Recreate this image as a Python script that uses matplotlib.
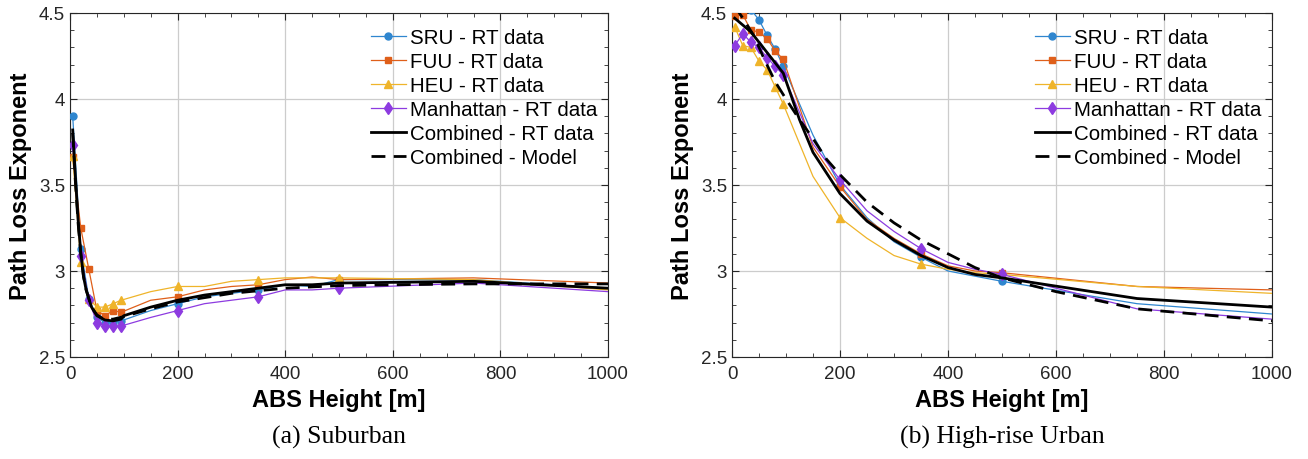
import matplotlib
matplotlib.use("Agg")
import matplotlib.pyplot as plt
from matplotlib.ticker import MultipleLocator

# ---- data ----------------------------------------------------------------
# RT data heights shared by the four per-city series
H_RT = [5, 20, 35, 50, 65, 80, 95, 150, 200, 250, 300, 350, 400, 450, 500, 750, 1000]
MARKED = [5, 20, 35, 50, 65, 80, 95, 200, 350, 500]

# (a) Suburban
SRU_SUB = [3.90, 3.13, 2.84, 2.73, 2.70, 2.70, 2.71, 2.77, 2.81, 2.85, 2.87, 2.89, 2.92, 2.91, 2.95, 2.95, 2.90]
FUU_SUB = [3.66, 3.25, 3.01, 2.77, 2.74, 2.77, 2.76, 2.83, 2.85, 2.89, 2.91, 2.92, 2.95, 2.965, 2.95, 2.96, 2.93]
HEU_SUB = [3.67, 3.05, 2.84, 2.79, 2.79, 2.81, 2.83, 2.88, 2.91, 2.91, 2.94, 2.95, 2.96, 2.96, 2.96, 2.95, 2.89]
MAN_SUB = [3.73, 3.09, 2.83, 2.70, 2.68, 2.68, 2.68, 2.73, 2.77, 2.81, 2.83, 2.85, 2.89, 2.89, 2.90, 2.93, 2.88]

H_CMB_SUB = [5, 10, 15, 20, 25, 30, 35, 40, 50, 65, 80, 95, 100, 150, 200, 250, 300, 350, 400, 450, 500, 750, 1000]
CMB_SUB = [3.82, 3.55, 3.30, 3.11, 2.97, 2.89, 2.84, 2.79, 2.74, 2.715, 2.71, 2.72, 2.74, 2.79, 2.83, 2.86, 2.88, 2.90, 2.92, 2.92, 2.93, 2.94, 2.90]

H_MOD_SUB = [5, 10, 15, 20, 25, 30, 40, 50, 60, 70, 80, 100, 150, 200, 300, 400, 500, 600, 750, 1000]
MOD_SUB = [3.80, 3.52, 3.28, 3.10, 2.97, 2.89, 2.79, 2.745, 2.725, 2.72, 2.72, 2.735, 2.78, 2.82, 2.87, 2.90, 2.915, 2.92, 2.925, 2.925]

# (b) High-rise Urban
SRU_HRU = [4.55, 4.56, 4.52, 4.46, 4.37, 4.29, 4.19, 3.79, 3.50, 3.31, 3.17, 3.08, 3.00, 2.97, 2.94, 2.81, 2.75]
FUU_HRU = [4.48, 4.49, 4.40, 4.39, 4.35, 4.28, 4.23, 3.72, 3.49, 3.30, 3.19, 3.10, 3.03, 3.00, 2.99, 2.91, 2.89]
HEU_HRU = [4.42, 4.31, 4.30, 4.22, 4.17, 4.07, 3.97, 3.55, 3.31, 3.19, 3.09, 3.04, 3.01, 2.99, 2.98, 2.91, 2.87]
MAN_HRU = [4.31, 4.38, 4.33, 4.30, 4.24, 4.19, 4.14, 3.74, 3.53, 3.35, 3.23, 3.13, 3.05, 3.01, 2.98, 2.78, 2.72]

H_CMB_HRU = [5, 20, 35, 50, 65, 80, 95, 125, 150, 200, 250, 300, 350, 400, 450, 500, 750, 1000]
CMB_HRU = [4.47, 4.43, 4.39, 4.33, 4.27, 4.21, 4.15, 3.88, 3.69, 3.45, 3.29, 3.18, 3.09, 3.02, 2.98, 2.96, 2.84, 2.79]

H_MOD_HRU = [5, 20, 40, 60, 80, 100, 125, 150, 175, 200, 250, 300, 350, 400, 450, 500, 600, 750, 1000]
MOD_HRU = [4.54, 4.47, 4.37, 4.23, 4.10, 4.00, 3.88, 3.77, 3.65, 3.56, 3.40, 3.28, 3.18, 3.10, 3.02, 2.96, 2.88, 2.78, 2.71]

LABELS = ["SRU - RT data", "FUU - RT data", "HEU - RT data", "Manhattan - RT data",
          "Combined - RT data", "Combined - Model"]
CAPTIONS = ["(a) Suburban", "(b) High-rise Urban"]

# ---- style ----------------------------------------------------------------
BLUE = "#2f86cf"
ORANGE = "#df5f1a"
YELLOW = "#efb42a"
PURPLE = "#8d3be0"
AXCOL = "#262626"

plt.rcParams.update({
    "font.family": ["Liberation Sans", "DejaVu Sans"],
    "axes.edgecolor": AXCOL,
    "axes.linewidth": 0.8,
    "xtick.color": AXCOL,
    "ytick.color": AXCOL,
})

CITY_STYLE = [
    (BLUE, "o", 5.0),
    (ORANGE, "s", 4.5),
    (YELLOW, "^", 6.0),
    (PURPLE, "d", 6.0),
]

mark_idx = [H_RT.index(h) for h in MARKED]


def draw(ax, cities, h_cmb, cmb, h_mod, mod):
    for vals, (col, mk, ms), lab in zip(cities, CITY_STYLE, LABELS):
        ax.plot(H_RT, vals, color=col, lw=0.9, marker=mk, ms=ms,
                markevery=mark_idx, label=lab, zorder=3)
    ax.plot(h_cmb, cmb, color="black", lw=2.0, label=LABELS[4], zorder=4)
    ax.plot(h_mod, mod, color="black", lw=2.0, dashes=(5, 3),
            label=LABELS[5], zorder=4)

    ax.set_xlim(0, 1000)
    ax.set_ylim(2.5, 4.5)
    ax.xaxis.set_major_locator(MultipleLocator(200))
    ax.xaxis.set_minor_locator(MultipleLocator(50))
    ax.yaxis.set_major_locator(MultipleLocator(0.5))
    ax.yaxis.set_minor_locator(MultipleLocator(0.1))
    ax.set_yticks([2.5, 3, 3.5, 4, 4.5], ["2.5", "3", "3.5", "4", "4.5"])
    ax.tick_params(which="both", direction="in", top=True, right=True,
                   labelsize=13.5)
    ax.tick_params(axis="x", pad=6)
    ax.tick_params(which="major", length=5)
    ax.tick_params(which="minor", length=3)
    ax.grid(which="major", color="#cccccc", lw=0.9)
    ax.set_axisbelow(True)
    ax.set_xlabel("ABS Height [m]", fontsize=17, fontweight="bold",
                  labelpad=4)
    ax.set_ylabel("Path Loss Exponent", fontsize=17, fontweight="bold",
                  labelpad=5)
    # legend box ends ~11 px before the right spine
    ax.legend(loc="upper right", bbox_to_anchor=(1 - 11 / 540, 0.957),
              frameon=False, fontsize=14.8, handlelength=1.7,
              handletextpad=0.2, labelspacing=0.25, borderpad=0,
              borderaxespad=0)


fig = plt.figure(figsize=(13.08, 4.60), dpi=100)
ax1 = fig.add_axes([70 / 1308, 1 - 358 / 460, 538 / 1308, 344 / 460])
ax2 = fig.add_axes([732 / 1308, 1 - 358 / 460, 540 / 1308, 344 / 460])

draw(ax1, [SRU_SUB, FUU_SUB, HEU_SUB, MAN_SUB], H_CMB_SUB, CMB_SUB,
     H_MOD_SUB, MOD_SUB)
draw(ax2, [SRU_HRU, FUU_HRU, HEU_HRU, MAN_HRU], H_CMB_HRU, CMB_HRU,
     H_MOD_HRU, MOD_HRU)

for ax, cap in zip([ax1, ax2], CAPTIONS):
    pos = ax.get_position()
    fig.text((pos.x0 + pos.x1) / 2, 1 - 437 / 460, cap, ha="center",
             va="center", fontsize=18.5, family=["Liberation Serif", "DejaVu Serif"])

fig.savefig("out.png", dpi=100, facecolor="white")
